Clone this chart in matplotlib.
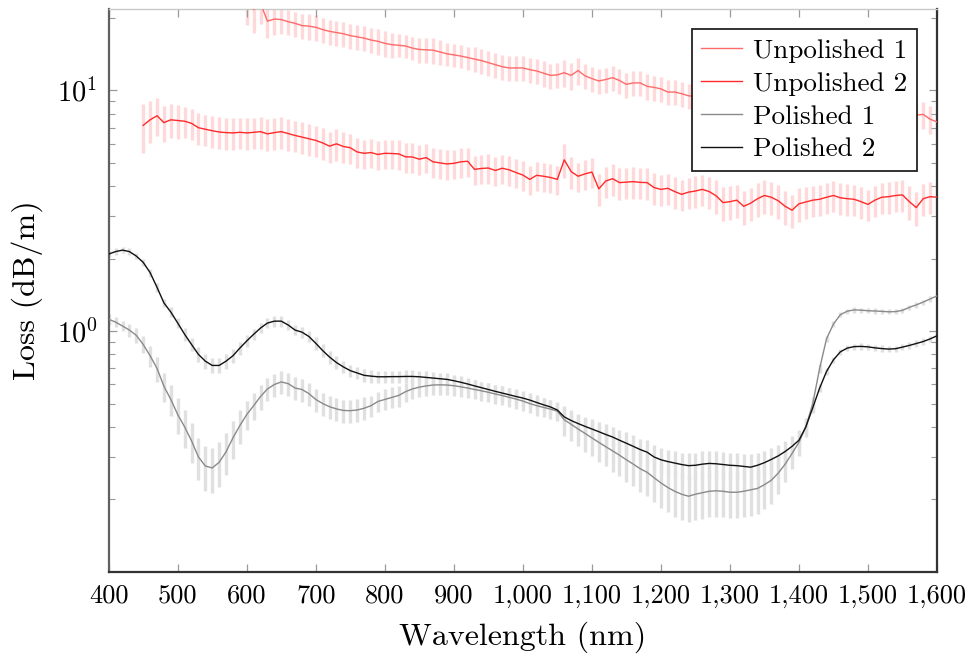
"""
Loss spectra of unpolished and polished fibres (log scale, with error bars).
"""

import matplotlib
matplotlib.use('Agg')
import matplotlib.pyplot as plt
from matplotlib.ticker import FixedLocator, FuncFormatter, LogLocator, NullFormatter
import numpy as np


plt.rcParams['font.family'] = ['cmr10', 'DejaVu Serif']
plt.rcParams['mathtext.fontset'] = 'cm'
plt.rcParams['axes.unicode_minus'] = False


# Wavelength grids (nm)
WL_POL = np.arange(400, 1601, 10)
WL_UNP1 = np.arange(600, 1601, 10)
WL_UNP2 = np.arange(450, 1601, 10)

# Unpolished 1, loss (dB/m), 600..1600 nm
UNP1 = [
    24.0, 21.7, 23.0, 19.4, 19.8, 19.7, 19.3, 19.0, 18.6, 18.5,
    18.3, 17.9, 17.6, 17.4, 17.2, 16.9, 16.7, 16.5, 16.2, 16.0,
    15.7, 15.5, 15.4, 15.3, 15.0, 14.8, 14.75, 14.7, 14.45, 14.2,
    14.05, 13.9, 13.7, 13.5, 13.3, 13.05, 12.8, 12.55, 12.4, 12.4,
    12.4, 12.2, 12.05, 11.8, 11.55, 11.6, 11.85, 11.55, 12.1, 11.5,
    11.2, 10.95, 11.1, 11.3, 11.0, 10.6, 10.75, 10.75, 10.4, 10.3,
    10.15, 9.85, 9.85, 9.7, 9.5, 9.45, 9.35, 9.3, 9.2, 9.1,
    9.05, 8.95, 8.9, 8.85, 8.75, 8.7, 8.65, 8.6, 8.55, 8.5,
    8.45, 8.4, 8.35, 8.3, 8.25, 8.2, 8.15, 8.1, 8.05, 8.0,
    8.0, 7.95, 7.95, 7.9, 7.9, 7.85, 7.85, 7.9, 7.95, 7.6,
    7.4,
]
UNP1_REL = [
    0.22, 0.20, 0.18, 0.15, 0.14, 0.13, 0.12, 0.12, 0.12, 0.12,
    0.12, 0.12, 0.12, 0.12, 0.12, 0.12, 0.12, 0.12, 0.12, 0.12,
    0.12, 0.12, 0.11, 0.11, 0.11, 0.12, 0.12, 0.12, 0.12, 0.11,
    0.11, 0.11, 0.11, 0.12, 0.12, 0.12, 0.12, 0.12, 0.12, 0.12,
    0.12, 0.12, 0.12, 0.12, 0.12, 0.12, 0.13, 0.13, 0.13, 0.12,
    0.12, 0.12, 0.12, 0.12, 0.12, 0.12, 0.12, 0.12, 0.12, 0.12,
    0.12, 0.12, 0.12, 0.12, 0.12, 0.12, 0.12, 0.12, 0.12, 0.12,
    0.12, 0.12, 0.12, 0.12, 0.12, 0.12, 0.12, 0.12, 0.12, 0.12,
    0.12, 0.12, 0.12, 0.12, 0.12, 0.12, 0.12, 0.12, 0.12, 0.12,
    0.12, 0.12, 0.12, 0.12, 0.12, 0.12, 0.12, 0.13, 0.13, 0.13,
    0.13,
]

# Unpolished 2, loss (dB/m), 450..1600 nm
UNP2 = [
    7.16, 7.55, 7.85, 7.35, 7.55, 7.50, 7.45, 7.30, 7.00, 6.90,
    6.80, 6.72, 6.68, 6.66, 6.70, 6.66, 6.70, 6.74, 6.60, 6.68,
    6.74, 6.62, 6.50, 6.40, 6.30, 6.20, 6.05, 5.87, 6.00, 5.85,
    5.78, 5.55, 5.48, 5.52, 5.42, 5.48, 5.47, 5.45, 5.30, 5.29,
    5.18, 5.26, 5.05, 5.00, 4.95, 4.98, 5.05, 5.08, 4.70, 4.74,
    4.76, 4.65, 4.75, 4.68, 4.56, 4.45, 4.27, 4.44, 4.40, 4.35,
    4.27, 5.15, 4.60, 4.40, 4.50, 4.58, 3.90, 4.20, 4.30, 4.14,
    4.16, 4.18, 4.15, 4.14, 3.95, 3.88, 3.92, 3.80, 3.70, 3.78,
    3.82, 3.88, 3.80, 3.65, 3.42, 3.45, 3.50, 3.30, 3.40, 3.55,
    3.66, 3.60, 3.48, 3.30, 3.18, 3.38, 3.44, 3.50, 3.53, 3.60,
    3.66, 3.58, 3.55, 3.53, 3.45, 3.36, 3.50, 3.60, 3.62, 3.66,
    3.68, 3.45, 3.26, 3.55, 3.62, 3.60,
]
UNP2_REL = [
    0.23, 0.20, 0.18, 0.17, 0.16, 0.16, 0.15, 0.15, 0.15, 0.15,
    0.15, 0.15, 0.15, 0.15, 0.15, 0.15, 0.15, 0.15, 0.15, 0.15,
    0.15, 0.15, 0.15, 0.15, 0.15, 0.15, 0.15, 0.15, 0.15, 0.15,
    0.14, 0.14, 0.14, 0.14, 0.14, 0.14, 0.14, 0.14, 0.14, 0.14,
    0.14, 0.14, 0.14, 0.14, 0.14, 0.14, 0.14, 0.14, 0.14, 0.14,
    0.14, 0.14, 0.14, 0.14, 0.14, 0.14, 0.14, 0.14, 0.14, 0.14,
    0.14, 0.16, 0.15, 0.14, 0.14, 0.14, 0.15, 0.15, 0.15, 0.15,
    0.15, 0.15, 0.15, 0.15, 0.15, 0.15, 0.15, 0.15, 0.15, 0.15,
    0.15, 0.15, 0.15, 0.16, 0.16, 0.16, 0.16, 0.16, 0.16, 0.16,
    0.16, 0.16, 0.16, 0.16, 0.16, 0.16, 0.15, 0.15, 0.15, 0.15,
    0.15, 0.15, 0.15, 0.15, 0.15, 0.15, 0.15, 0.15, 0.15, 0.15,
    0.15, 0.16, 0.16, 0.15, 0.15, 0.15,
]

# Polished 1, loss (dB/m), 400..1600 nm
POL1 = [
    1.12, 1.09, 1.05, 1.01, 0.96, 0.88, 0.79, 0.70, 0.59, 0.52,
    0.45, 0.40, 0.35, 0.30, 0.275, 0.270, 0.285, 0.315, 0.36, 0.405,
    0.45, 0.49, 0.535, 0.575, 0.60, 0.615, 0.605, 0.58, 0.572, 0.55,
    0.52, 0.50, 0.485, 0.475, 0.468, 0.467, 0.47, 0.478, 0.49, 0.51,
    0.52, 0.53, 0.54, 0.56, 0.575, 0.585, 0.592, 0.597, 0.598, 0.597,
    0.593, 0.587, 0.580, 0.572, 0.565, 0.557, 0.548, 0.540, 0.531, 0.522,
    0.512, 0.500, 0.490, 0.482, 0.474, 0.465, 0.428, 0.410, 0.392, 0.376,
    0.360, 0.345, 0.331, 0.318, 0.305, 0.292, 0.280, 0.268, 0.259, 0.246,
    0.234, 0.224, 0.216, 0.210, 0.206, 0.210, 0.213, 0.216, 0.217, 0.216,
    0.214, 0.214, 0.216, 0.219, 0.222, 0.230, 0.240, 0.257, 0.280, 0.310,
    0.345, 0.40, 0.50, 0.70, 0.93, 1.07, 1.17, 1.21, 1.225, 1.222,
    1.215, 1.212, 1.208, 1.203, 1.205, 1.22, 1.255, 1.285, 1.32, 1.36,
    1.40,
]
POL1_REL = [
    0.05, 0.05, 0.05, 0.06, 0.07, 0.08, 0.10, 0.12, 0.14, 0.15,
    0.17, 0.18, 0.19, 0.20, 0.21, 0.21, 0.21, 0.20, 0.18, 0.16,
    0.14, 0.13, 0.12, 0.11, 0.11, 0.11, 0.11, 0.11, 0.11, 0.11,
    0.11, 0.11, 0.11, 0.11, 0.11, 0.11, 0.11, 0.11, 0.10, 0.10,
    0.10, 0.10, 0.10, 0.09, 0.09, 0.09, 0.09, 0.09, 0.09, 0.09,
    0.09, 0.09, 0.09, 0.09, 0.09, 0.09, 0.09, 0.09, 0.09, 0.09,
    0.09, 0.09, 0.09, 0.09, 0.09, 0.09, 0.14, 0.15, 0.15, 0.16,
    0.16, 0.17, 0.17, 0.18, 0.18, 0.19, 0.19, 0.20, 0.20, 0.21,
    0.21, 0.21, 0.22, 0.22, 0.22, 0.22, 0.22, 0.22, 0.22, 0.22,
    0.22, 0.22, 0.22, 0.22, 0.22, 0.21, 0.20, 0.18, 0.16, 0.14,
    0.12, 0.09, 0.06, 0.04, 0.03, 0.03, 0.025, 0.025, 0.025, 0.025,
    0.025, 0.025, 0.025, 0.025, 0.025, 0.025, 0.025, 0.025, 0.025, 0.025,
    0.025,
]

# Polished 2, loss (dB/m), 400..1600 nm
POL2 = [
    2.09, 2.14, 2.17, 2.14, 2.05, 1.93, 1.75, 1.52, 1.31, 1.20,
    1.08, 0.97, 0.88, 0.80, 0.75, 0.72, 0.72, 0.75, 0.79, 0.85,
    0.91, 0.97, 1.03, 1.08, 1.10, 1.10, 1.06, 1.01, 0.99, 0.95,
    0.89, 0.83, 0.78, 0.74, 0.71, 0.685, 0.67, 0.655, 0.65, 0.646,
    0.646, 0.647, 0.647, 0.648, 0.648, 0.646, 0.642, 0.638, 0.634, 0.630,
    0.622, 0.613, 0.603, 0.592, 0.582, 0.572, 0.562, 0.553, 0.544, 0.535,
    0.527, 0.517, 0.505, 0.494, 0.484, 0.470, 0.440, 0.425, 0.413, 0.402,
    0.392, 0.382, 0.372, 0.363, 0.352, 0.342, 0.332, 0.322, 0.314, 0.300,
    0.292, 0.287, 0.283, 0.279, 0.276, 0.277, 0.280, 0.282, 0.281, 0.279,
    0.277, 0.276, 0.274, 0.272, 0.277, 0.284, 0.293, 0.303, 0.316, 0.332,
    0.352, 0.40, 0.48, 0.58, 0.68, 0.76, 0.82, 0.85, 0.862, 0.864,
    0.860, 0.852, 0.846, 0.842, 0.845, 0.858, 0.872, 0.888, 0.905, 0.928,
    0.956,
]
POL2_REL = [
    0.03, 0.03, 0.03, 0.03, 0.03, 0.03, 0.04, 0.04, 0.04, 0.05,
    0.05, 0.06, 0.06, 0.07, 0.07, 0.07, 0.07, 0.07, 0.07, 0.06,
    0.06, 0.05, 0.05, 0.05, 0.05, 0.05, 0.05, 0.05, 0.05, 0.05,
    0.06, 0.06, 0.06, 0.06, 0.06, 0.06, 0.06, 0.06, 0.06, 0.06,
    0.06, 0.06, 0.06, 0.06, 0.06, 0.06, 0.06, 0.06, 0.06, 0.06,
    0.06, 0.06, 0.06, 0.06, 0.06, 0.06, 0.06, 0.07, 0.07, 0.07,
    0.07, 0.07, 0.07, 0.07, 0.07, 0.07, 0.09, 0.09, 0.09, 0.09,
    0.10, 0.10, 0.10, 0.10, 0.10, 0.11, 0.11, 0.11, 0.12, 0.12,
    0.12, 0.12, 0.12, 0.12, 0.13, 0.13, 0.13, 0.13, 0.13, 0.13,
    0.13, 0.13, 0.13, 0.13, 0.12, 0.12, 0.12, 0.11, 0.11, 0.10,
    0.09, 0.07, 0.05, 0.04, 0.03, 0.03, 0.03, 0.03, 0.03, 0.03,
    0.03, 0.03, 0.03, 0.03, 0.03, 0.03, 0.03, 0.03, 0.03, 0.03,
    0.03,
]

SERIES = [
    # label, x, y, relative error, line colour, error colour
    ('Unpolished 1', WL_UNP1, UNP1, UNP1_REL, '#ff6a6a', '#ffd9d9'),
    ('Unpolished 2', WL_UNP2, UNP2, UNP2_REL, '#ff2a2a', '#ffd9d9'),
    ('Polished 1', WL_POL, POL1, POL1_REL, '#8a8a8a', '#e0e0e0'),
    ('Polished 2', WL_POL, POL2, POL2_REL, '#111111', '#e0e0e0'),
]


def make_figure(path='out.png'):
    fig = plt.figure(figsize=(9.74, 6.61), dpi=100)
    ax = fig.add_axes([0.1116, 0.135, 0.8504, 0.8514])

    # error bars first, then the lines on top
    for label, x, y, rel, lc, ec in SERIES:
        y = np.asarray(y)
        err = y * np.asarray(rel)
        ax.vlines(x, y - err, y + err, colors=ec, linewidth=2.4, zorder=1)
    for label, x, y, rel, lc, ec in SERIES:
        ax.plot(x, y, color=lc, linewidth=1.0, label=label, zorder=3)

    ax.set_yscale('log')
    ax.set_xlim(400, 1600)
    ax.set_ylim(0.1, 21.8)

    ax.xaxis.set_major_locator(FixedLocator(np.arange(400, 1601, 100)))
    ax.xaxis.set_major_formatter(FuncFormatter(lambda v, p: f'{v:,.0f}'))
    ax.yaxis.set_major_locator(FixedLocator([1, 10]))
    ax.yaxis.set_major_formatter(FuncFormatter(
        lambda v, p: r'$10^{%d}$' % int(round(np.log10(v)))))
    ax.yaxis.set_minor_locator(LogLocator(base=10, subs=np.arange(2, 10)))
    ax.yaxis.set_minor_formatter(NullFormatter())

    ax.tick_params(which='both', direction='in', top=True, right=True,
                   color='#9a9a9a', labelsize=19)
    ax.tick_params(axis='y', which='major', labelsize=20.5)
    ax.tick_params(which='major', length=6, width=0.9)
    ax.tick_params(which='minor', length=4, width=0.8)
    ax.tick_params(axis='x', pad=9)
    ax.tick_params(axis='y', pad=8)

    for side, col, lw in [('left', '#606060', 1.6), ('bottom', '#333333', 1.6),
                          ('right', '#333333', 1.6), ('top', '#c8c8c8', 1.0)]:
        ax.spines[side].set_color(col)
        ax.spines[side].set_linewidth(lw)

    ax.set_xlabel('Wavelength (nm)', fontsize=23, labelpad=10)
    ax.set_ylabel('Loss (dB/m)', fontsize=23, labelpad=10)

    leg = ax.legend(loc='upper right', fontsize=19.5, frameon=True,
                    fancybox=False, framealpha=1, edgecolor='#222222',
                    handlelength=1.5, handletextpad=0.4, labelspacing=0.33,
                    borderpad=0.35, borderaxespad=0.75)
    leg.get_frame().set_linewidth(1.3)

    fig.savefig(path, dpi=100)
    plt.close(fig)


if __name__ == '__main__':
    for label, x, y, rel, lc, ec in SERIES:
        assert len(x) == len(y) == len(rel), label
    make_figure('out.png')
